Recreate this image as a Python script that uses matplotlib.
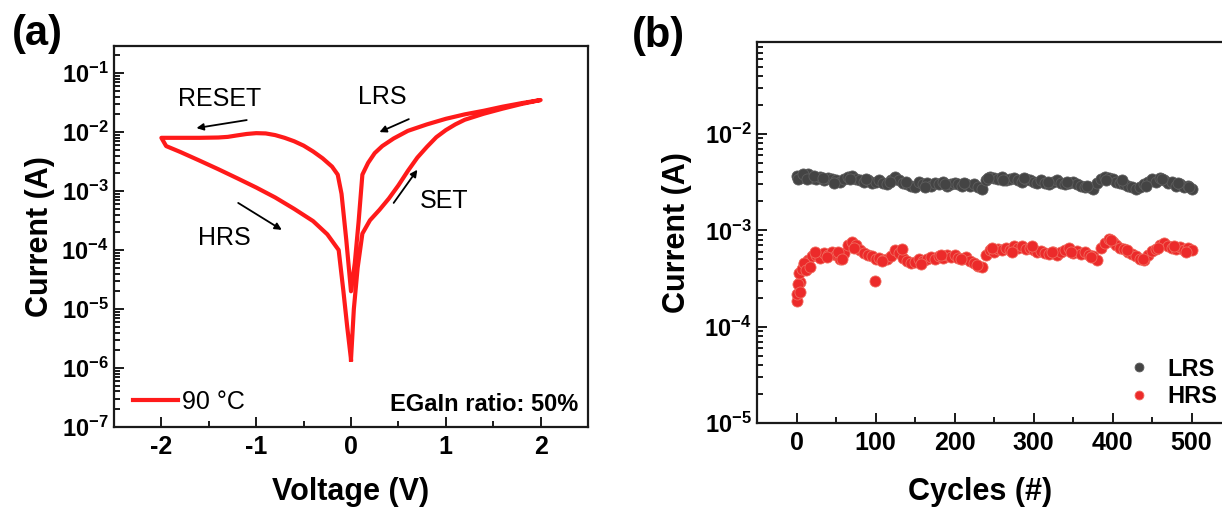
import matplotlib
matplotlib.use("Agg")
import matplotlib.pyplot as plt
from matplotlib.ticker import FixedLocator, FixedFormatter, LogLocator, NullFormatter, MultipleLocator
import numpy as np

plt.rcParams['font.family'] = ['Liberation Sans', 'DejaVu Sans']
plt.rcParams['mathtext.fontset'] = 'custom'
plt.rcParams['mathtext.rm'] = 'Liberation Sans:bold'
plt.rcParams['mathtext.it'] = 'Liberation Sans:bold:italic'
plt.rcParams['mathtext.bf'] = 'Liberation Sans:bold'

# ---------------- data: panel (a) I-V sweep ----------------
set_v = [0.0, 0.03, 0.07, 0.12, 0.2, 0.3, 0.4, 0.5, 0.6, 0.7, 0.8, 0.9, 1.0, 1.1, 1.2, 1.4, 1.6, 1.8, 2.0]
set_i = [1.4e-6, 1e-5, 5e-5, 1.9e-4, 3.2e-4, 4.8e-4, 7.5e-4, 1.25e-3, 2.2e-3, 3.7e-3, 5.6e-3, 8.2e-3,
         1.08e-2, 1.35e-2, 1.62e-2, 2.05e-2, 2.5e-2, 3.0e-2, 3.5e-2]
lrs_v = [2.0, 1.8, 1.6, 1.4, 1.2, 1.0, 0.8, 0.6, 0.45, 0.33, 0.25, 0.18, 0.12, 0.08, 0.04, 0.0]
lrs_i = [3.5e-2, 3.1e-2, 2.7e-2, 2.3e-2, 2.0e-2, 1.68e-2, 1.35e-2, 1.05e-2, 7.8e-3, 5.8e-3, 4.4e-3,
         3.0e-3, 1.9e-3, 3e-4, 6e-5, 2e-5]
reset_v = [0.0, -0.05, -0.1, -0.14, -0.2, -0.3, -0.4, -0.5, -0.6, -0.7, -0.8, -0.9, -1.0, -1.1,
           -1.2, -1.3, -1.4, -1.6, -1.8, -2.0]
reset_i = [2e-5, 1.5e-4, 9e-4, 1.9e-3, 2.6e-3, 3.6e-3, 4.7e-3, 5.9e-3, 7.0e-3, 8.0e-3, 8.9e-3, 9.5e-3,
           9.6e-3, 9.3e-3, 8.8e-3, 8.3e-3, 8.1e-3, 8.0e-3, 8.0e-3, 8.0e-3]
hrs_v = [-2.0, -1.95, -1.8, -1.6, -1.4, -1.2, -1.0, -0.8, -0.6, -0.4, -0.25, -0.13, -0.08, -0.04, 0.0]
hrs_i = [8.0e-3, 5.8e-3, 4.6e-3, 3.3e-3, 2.35e-3, 1.65e-3, 1.15e-3, 7.8e-4, 5.0e-4, 3.1e-4, 1.85e-4,
         1.0e-4, 2e-5, 5e-6, 1.4e-6]

a_xticks = [-2, -1, 0, 1, 2]
a_yticks = [1e-7, 1e-6, 1e-5, 1e-4, 1e-3, 1e-2, 1e-1]
a_yticklabels = ['$10^{-7}$', '$10^{-6}$', '$10^{-5}$', '$10^{-4}$', '$10^{-3}$', '$10^{-2}$', '$10^{-1}$']

# ---------------- data: panel (b) endurance ----------------
cycles = list(range(0, 501, 5))
lrs_cur = [3.7, 3.5, 3.6, 3.8, 3.5, 3.4, 3.6, 3.3, 3.5, 3.4, 3.3, 3.2, 3.4, 3.6, 3.7, 3.4, 3.3, 3.2, 3.3, 3.1,
           3.2, 3.3, 3.1, 3.0, 3.3, 3.6, 3.3, 3.1, 3.0, 2.9, 2.8, 3.2, 3.0, 3.1, 2.9, 3.1, 3.0, 3.2, 2.9, 3.0,
           3.1, 3.0, 2.9, 3.0, 2.9, 3.0, 2.8, 2.7, 3.3, 3.6, 3.5, 3.4, 3.6, 3.3, 3.4, 3.5, 3.3, 3.2, 3.4, 3.3,
           3.2, 3.1, 3.3, 3.1, 3.0, 3.2, 3.3, 3.1, 3.0, 3.1, 3.2, 3.0, 2.9, 2.8, 2.8, 2.7, 3.1, 3.4, 3.6, 3.5,
           3.4, 3.2, 3.1, 3.0, 2.9, 2.8, 2.7, 2.8, 3.0, 3.2, 3.4, 3.2, 3.5, 3.3, 3.1, 3.2, 2.9, 3.0, 2.8, 2.9,
           2.7]
lrs_extra_cycles = [2, 8, 13, 22, 33, 47, 68, 88, 118, 138, 163, 188, 212, 243, 262, 288, 318, 343, 368,
                    392, 412, 443, 463, 483, 497]
lrs_extra_cur = [3.4, 3.8, 3.4, 3.7, 3.5, 3.1, 3.4, 3.4, 3.2, 3.2, 2.8, 3.0, 3.1, 3.5, 3.3, 3.5, 3.2, 3.2,
                 2.9, 3.3, 3.3, 2.9, 3.4, 3.1, 2.8]
hrs_cur = [1.85, 2.9, 4.5, 4.9, 5.4, 5.5, 5.2, 5.8, 5.6, 5.9, 5.5, 5.0, 5.8, 7.0, 7.5, 7.0, 6.2, 5.8, 5.6, 5.4,
           5.0, 5.2, 4.9, 5.1, 5.4, 6.2, 5.8, 5.2, 4.8, 4.6, 4.7, 5.0, 4.8, 5.1, 5.3, 5.0, 5.4, 5.2, 5.5, 5.3,
           5.6, 5.2, 5.0, 5.3, 4.8, 4.6, 4.3, 4.2, 5.6, 6.3, 6.0, 6.4, 6.2, 6.6, 6.3, 6.8, 6.5, 6.9, 6.4, 6.6,
           6.2, 5.9, 6.1, 5.8, 5.7, 6.0, 5.6, 5.9, 6.2, 6.5, 5.8, 6.1, 5.7, 5.9, 5.6, 5.4, 4.9, 6.5, 7.4, 8.2,
           7.6, 7.0, 6.6, 6.4, 6.0, 5.7, 5.4, 5.1, 4.9, 5.6, 6.1, 6.4, 7.0, 7.3, 6.9, 6.6, 6.4, 6.7, 6.3, 6.5,
           6.2]
hrs_extra_cycles = [1, 2, 3, 4, 7, 9, 12, 17, 23, 38, 52, 58, 73, 99, 108, 133, 158, 183, 208, 228, 248,
                    273, 298, 323, 348, 373, 398, 418, 438, 458, 478, 493]
hrs_extra_cur = [2.2, 2.8, 3.6, 2.3, 4.0, 4.6, 3.9, 4.2, 5.9, 5.3, 6.0, 5.1, 6.6, 2.95, 4.8, 6.4, 4.5,
                 5.6, 5.1, 4.4, 6.6, 6.0, 6.9, 5.9, 6.0, 5.3, 7.9, 6.2, 5.0, 6.6, 6.8, 6.0]

b_xticks = [0, 100, 200, 300, 400, 500]
b_yticks = [1e-5, 1e-4, 1e-3, 1e-2]
b_yticklabels = ['$10^{-5}$', '$10^{-4}$', '$10^{-3}$', '$10^{-2}$']

# ---------------- figure ----------------
W, H = 1222, 511
fig = plt.figure(figsize=(W / 100, H / 100), dpi=100)

def pos(l, t, r, b):
    return [l / W, 1 - b / H, (r - l) / W, (b - t) / H]

ax1 = fig.add_axes(pos(114, 46, 588, 427))
ax2 = fig.add_axes(pos(757, 42, 1231, 423))

red = '#ff1a1a'
v_all = set_v + lrs_v[1:] + reset_v[1:] + hrs_v
i_all = set_i + lrs_i[1:] + reset_i[1:] + hrs_i
ax1.plot(v_all, i_all, color=red, lw=3.0, solid_joinstyle='round', label='90 °C')
ax1.set_yscale('log')
ax1.set_xlim(-2.5, 2.5)
ax1.set_ylim(1e-7, 10 ** -0.54)

for ax in (ax1, ax2):
    for s in ax.spines.values():
        s.set_linewidth(1.6)
        s.set_color('#1a1a1a')
    ax.tick_params(which='both', direction='in', top=False, right=False, width=1.4, color='#1a1a1a')
    ax.tick_params(which='major', length=7)
    ax.tick_params(which='minor', length=4)
    ax.tick_params(axis='x', labelsize=18, pad=6)
    ax.tick_params(axis='y', labelsize=17, pad=4)

ax1.xaxis.set_major_locator(FixedLocator(a_xticks))
ax1.set_xticklabels([str(t) for t in a_xticks], fontweight='bold')
ax1.xaxis.set_minor_locator(MultipleLocator(0.5))
ax1.yaxis.set_major_locator(FixedLocator(a_yticks))
ax1.yaxis.set_major_formatter(FixedFormatter(a_yticklabels))
ax1.yaxis.set_minor_locator(LogLocator(base=10, subs=np.arange(2, 10), numticks=20))
ax1.yaxis.set_minor_formatter(NullFormatter())

ax1.set_xlabel('Voltage (V)', fontsize=22, fontweight='bold')
ax1.set_ylabel('Current (A)', fontsize=22, fontweight='bold')
ax1.xaxis.set_label_coords(0.5, -0.171)
ax1.xaxis.label.set_va('center')
ax1.yaxis.set_label_coords(-0.156, 0.5)
ax1.yaxis.label.set_va('center')

arrow_kw = dict(arrowstyle='-|>', color='black', lw=1.3, mutation_scale=10, shrinkA=0, shrinkB=0)
ax1.annotate('', xy=(-1.63, 1.17e-2), xytext=(-1.10, 1.6e-2), arrowprops=arrow_kw)
ax1.annotate('', xy=(-0.73, 2.2e-4), xytext=(-1.19, 6.3e-4), arrowprops=arrow_kw)
ax1.annotate('', xy=(0.30, 1.0e-2), xytext=(0.61, 1.66e-2), arrowprops=arrow_kw)
ax1.annotate('', xy=(0.70, 2.3e-3), xytext=(0.45, 6.3e-4), arrowprops=arrow_kw)
ax1.text(-1.39, 3.6e-2, 'RESET', fontsize=18, ha='center', va='center')
ax1.text(-1.34, 1.6e-4, 'HRS', fontsize=18, ha='center', va='center')
ax1.text(0.33, 3.9e-2, 'LRS', fontsize=18, ha='center', va='center')
ax1.text(0.98, 6.8e-4, 'SET', fontsize=18, ha='center', va='center')

ax1.legend(loc='center left', bbox_to_anchor=((133 - 114) / 474, (427 - 402) / 381),
           frameon=False, fontsize=18, handlelength=1.8, handletextpad=0.18,
           borderpad=0, borderaxespad=0)
ax1.text(0.979, 0.058, 'EGaIn ratio: 50%', transform=ax1.transAxes, ha='right', va='center',
         fontsize=17, fontweight='bold')

# ---------------- panel (b) ----------------
lrs_vals = [v * 1e-3 for v in lrs_cur]
lrs_extra_vals = [v * 1e-3 for v in lrs_extra_cur]
hrs_vals = [v * 1e-4 for v in hrs_cur]
hrs_extra_vals = [v * 1e-4 for v in hrs_extra_cur]
mk_l = dict(marker='o', ls='none', ms=8, mfc='#444444', mec='#5e5e5e', mew=0.6)
mk_h = dict(marker='o', ls='none', ms=8, mfc='#ec2a2a', mec='#f06a5e', mew=0.6)
ax2.plot(cycles, lrs_vals, label='LRS', **mk_l)
ax2.plot(lrs_extra_cycles, lrs_extra_vals, **mk_l)
ax2.plot(cycles, hrs_vals, label='HRS', **mk_h)
ax2.plot(hrs_extra_cycles, hrs_extra_vals, **mk_h)
ax2.set_yscale('log')
ax2.set_xlim(-50, 550)
ax2.set_ylim(1e-5, 10 ** -1.045)
ax2.xaxis.set_major_locator(FixedLocator(b_xticks))
ax2.set_xticklabels([str(t) for t in b_xticks], fontweight='bold')
ax2.xaxis.set_minor_locator(MultipleLocator(50))
ax2.yaxis.set_major_locator(FixedLocator(b_yticks))
ax2.yaxis.set_major_formatter(FixedFormatter(b_yticklabels))
ax2.yaxis.set_minor_locator(LogLocator(base=10, subs=np.arange(2, 10), numticks=20))
ax2.yaxis.set_minor_formatter(NullFormatter())

ax2.set_xlabel('Cycles (#)', fontsize=22, fontweight='bold')
ax2.set_ylabel('Current (A)', fontsize=22, fontweight='bold')
ax2.xaxis.set_label_coords(0.47, -0.181)
ax2.xaxis.label.set_va('center')
ax2.yaxis.set_label_coords(-0.169, 0.5)
ax2.yaxis.label.set_va('center')

ax2.legend(loc='center left', bbox_to_anchor=(0.786, 0.105), frameon=False,
           prop={'size': 17, 'weight': 'bold'}, handlelength=0.8, handletextpad=0.8,
           labelspacing=0.2, borderpad=0, borderaxespad=0, markerscale=0.8)

fig.text(12 / W, 1 - 34 / H, '(a)', fontsize=30, fontweight='bold', ha='left', va='center')
fig.text(632 / W, 1 - 36 / H, '(b)', fontsize=30, fontweight='bold', ha='left', va='center')

fig.savefig('out.png', dpi=100)
